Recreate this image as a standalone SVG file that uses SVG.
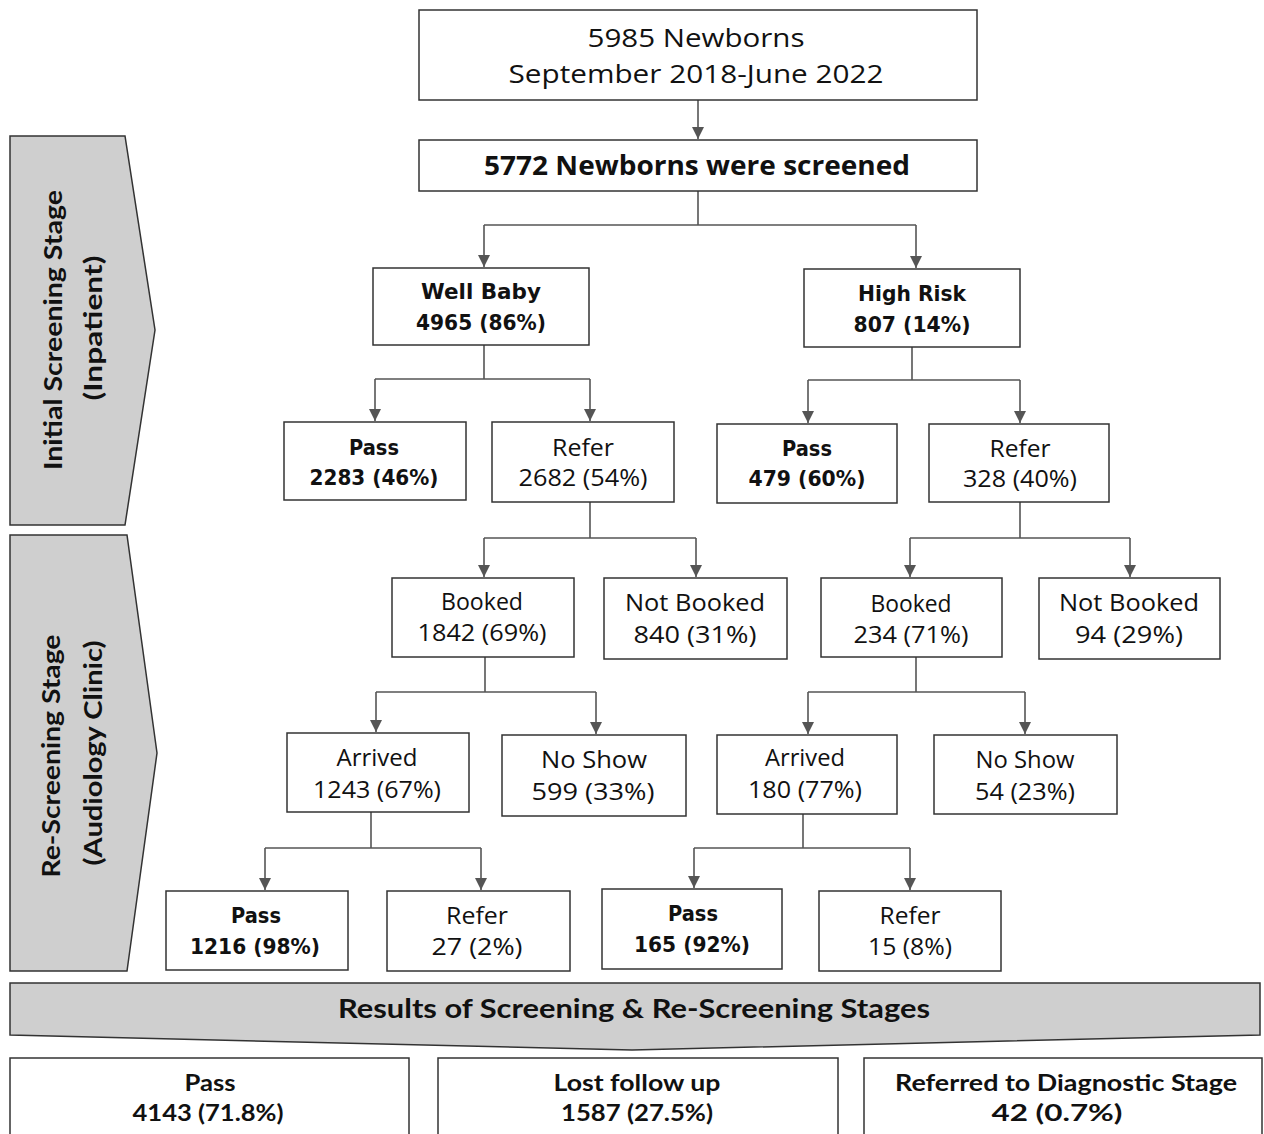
<svg xmlns="http://www.w3.org/2000/svg" width="1264" height="1134" viewBox="0 0 1264 1134">
<defs>
<marker id="ah" viewBox="0 0 10 10" refX="10" refY="5" markerWidth="12" markerHeight="12" markerUnits="userSpaceOnUse" orient="auto">
<path d="M0,0 L10,5 L0,10 z" fill="#555"/>
</marker>
<style>
.box{fill:#fff;stroke:#333;stroke-width:1.5}
.stage{fill:#cfcfcf;stroke:#333;stroke-width:1.5}
.c{fill:none;stroke:#555;stroke-width:1.6}
text{text-anchor:middle;dominant-baseline:central;fill:#111}
.r{font-family:"Open Sans","Noto Sans",sans-serif;font-size:23px}
.b{font-family:"DejaVu Sans",sans-serif;font-weight:bold;font-size:22px}
.h{font-family:"Open Sans","Noto Sans",sans-serif;font-weight:bold;font-size:26px}
.l{font-family:"Lato","Open Sans",sans-serif;font-weight:bold;font-size:24px}
</style>
</defs>
<rect width="1264" height="1134" fill="#fff"/>

<g id="stage-initial">
<polygon class="stage" points="10,136 125,136 155,330 125,525 10,525"/>
<text class="l" transform="translate(52,330) rotate(-90)" textLength="280" lengthAdjust="spacingAndGlyphs">Initial Screening Stage</text>
<text class="l" transform="translate(92,328) rotate(-90)" textLength="145" lengthAdjust="spacingAndGlyphs">(Inpatient)</text>
</g>
<g id="stage-rescreening">
<polygon class="stage" points="10,535 127,535 157,753 127,971 10,971"/>
<text class="l" transform="translate(50,756) rotate(-90)" textLength="243" lengthAdjust="spacingAndGlyphs">Re-Screening Stage</text>
<text class="l" transform="translate(92,753) rotate(-90)" textLength="225" lengthAdjust="spacingAndGlyphs">(Audiology Clinic)</text>
</g>

<g id="connectors">
<path class="c" d="M698,100 V139" marker-end="url(#ah)"/>
<path class="c" d="M698,191 V225 M484,225 H916"/>
<path class="c" d="M484,225 V267" marker-end="url(#ah)"/>
<path class="c" d="M916,225 V268" marker-end="url(#ah)"/>
<path class="c" d="M484,345 V379 M375,379 H590"/>
<path class="c" d="M375,379 V421" marker-end="url(#ah)"/>
<path class="c" d="M590,379 V421" marker-end="url(#ah)"/>
<path class="c" d="M912,347 V380 M808,380 H1020"/>
<path class="c" d="M808,380 V423" marker-end="url(#ah)"/>
<path class="c" d="M1020,380 V423" marker-end="url(#ah)"/>
<path class="c" d="M590,502 V538 M484,538 H696"/>
<path class="c" d="M484,538 V577" marker-end="url(#ah)"/>
<path class="c" d="M696,538 V577" marker-end="url(#ah)"/>
<path class="c" d="M1020,502 V538 M910,538 H1130"/>
<path class="c" d="M910,538 V577" marker-end="url(#ah)"/>
<path class="c" d="M1130,538 V577" marker-end="url(#ah)"/>
<path class="c" d="M485,657 V692 M376,692 H596"/>
<path class="c" d="M376,692 V732" marker-end="url(#ah)"/>
<path class="c" d="M596,692 V734" marker-end="url(#ah)"/>
<path class="c" d="M916,657 V692 M808,692 H1025"/>
<path class="c" d="M808,692 V734" marker-end="url(#ah)"/>
<path class="c" d="M1025,692 V734" marker-end="url(#ah)"/>
<path class="c" d="M371,812 V848 M265,848 H481"/>
<path class="c" d="M265,848 V890" marker-end="url(#ah)"/>
<path class="c" d="M481,848 V890" marker-end="url(#ah)"/>
<path class="c" d="M803,814 V848 M694,848 H910"/>
<path class="c" d="M694,848 V888" marker-end="url(#ah)"/>
<path class="c" d="M910,848 V890" marker-end="url(#ah)"/>
</g>

<g id="n-total">
<rect class="box" x="419" y="10" width="558" height="90"/>
<text class="r" x="696" y="37" style="font-size:26px" textLength="217" lengthAdjust="spacingAndGlyphs">5985 Newborns</text>
<text class="r" x="696" y="73" style="font-size:26px" textLength="375" lengthAdjust="spacingAndGlyphs">September 2018-June 2022</text>
</g>
<g id="n-screened">
<rect class="box" x="419" y="140" width="558" height="51"/>
<text class="h" x="697" y="165" textLength="426" lengthAdjust="spacingAndGlyphs">5772 Newborns were screened</text>
</g>
<g id="n-wellbaby">
<rect class="box" x="373" y="268" width="216" height="77"/>
<text class="b" x="481" y="291" textLength="120" lengthAdjust="spacingAndGlyphs">Well Baby</text>
<text class="b" x="481" y="322" textLength="130" lengthAdjust="spacingAndGlyphs">4965 (86%)</text>
</g>
<g id="n-highrisk">
<rect class="box" x="804" y="269" width="216" height="78"/>
<text class="b" x="912" y="293" textLength="108" lengthAdjust="spacingAndGlyphs">High Risk</text>
<text class="b" x="912" y="324" textLength="117" lengthAdjust="spacingAndGlyphs">807 (14%)</text>
</g>
<g id="n-wb-pass">
<rect class="box" x="284" y="422" width="182" height="78"/>
<text class="b" x="374" y="447" textLength="50" lengthAdjust="spacingAndGlyphs">Pass</text>
<text class="b" x="374" y="477" textLength="129" lengthAdjust="spacingAndGlyphs">2283 (46%)</text>
</g>
<g id="n-wb-refer">
<rect class="box" x="492" y="422" width="182" height="80"/>
<text class="r" x="583" y="447" textLength="62" lengthAdjust="spacingAndGlyphs">Refer</text>
<text class="r" x="583" y="477" textLength="129" lengthAdjust="spacingAndGlyphs">2682 (54%)</text>
</g>
<g id="n-hr-pass">
<rect class="box" x="717" y="424" width="180" height="79"/>
<text class="b" x="807" y="448" textLength="50" lengthAdjust="spacingAndGlyphs">Pass</text>
<text class="b" x="807" y="478" textLength="117" lengthAdjust="spacingAndGlyphs">479 (60%)</text>
</g>
<g id="n-hr-refer">
<rect class="box" x="929" y="424" width="180" height="78"/>
<text class="r" x="1020" y="448" textLength="61" lengthAdjust="spacingAndGlyphs">Refer</text>
<text class="r" x="1020" y="478" textLength="114" lengthAdjust="spacingAndGlyphs">328 (40%)</text>
</g>
<g id="n-wb-booked">
<rect class="box" x="392" y="578" width="182" height="79"/>
<text class="r" x="482" y="601" textLength="82" lengthAdjust="spacingAndGlyphs">Booked</text>
<text class="r" x="482" y="632" textLength="129" lengthAdjust="spacingAndGlyphs">1842 (69%)</text>
</g>
<g id="n-wb-notbooked">
<rect class="box" x="604" y="578" width="183" height="81"/>
<text class="r" x="695" y="602" textLength="140" lengthAdjust="spacingAndGlyphs">Not Booked</text>
<text class="r" x="695" y="634" textLength="123" lengthAdjust="spacingAndGlyphs">840 (31%)</text>
</g>
<g id="n-hr-booked">
<rect class="box" x="821" y="578" width="181" height="79"/>
<text class="r" x="911" y="603" textLength="81" lengthAdjust="spacingAndGlyphs">Booked</text>
<text class="r" x="911" y="634" textLength="115" lengthAdjust="spacingAndGlyphs">234 (71%)</text>
</g>
<g id="n-hr-notbooked">
<rect class="box" x="1039" y="578" width="181" height="81"/>
<text class="r" x="1129" y="602" textLength="140" lengthAdjust="spacingAndGlyphs">Not Booked</text>
<text class="r" x="1129" y="634" textLength="108" lengthAdjust="spacingAndGlyphs">94 (29%)</text>
</g>
<g id="n-wb-arrived">
<rect class="box" x="287" y="733" width="182" height="79"/>
<text class="r" x="377" y="757" textLength="81" lengthAdjust="spacingAndGlyphs">Arrived</text>
<text class="r" x="377" y="789" textLength="128" lengthAdjust="spacingAndGlyphs">1243 (67%)</text>
</g>
<g id="n-wb-noshow">
<rect class="box" x="502" y="735" width="184" height="81"/>
<text class="r" x="594" y="759" textLength="106" lengthAdjust="spacingAndGlyphs">No Show</text>
<text class="r" x="593" y="791" textLength="123" lengthAdjust="spacingAndGlyphs">599 (33%)</text>
</g>
<g id="n-hr-arrived">
<rect class="box" x="717" y="735" width="180" height="79"/>
<text class="r" x="805" y="757" textLength="80" lengthAdjust="spacingAndGlyphs">Arrived</text>
<text class="r" x="805" y="789" textLength="114" lengthAdjust="spacingAndGlyphs">180 (77%)</text>
</g>
<g id="n-hr-noshow">
<rect class="box" x="934" y="735" width="183" height="79"/>
<text class="r" x="1025" y="759" textLength="99" lengthAdjust="spacingAndGlyphs">No Show</text>
<text class="r" x="1025" y="791" textLength="100" lengthAdjust="spacingAndGlyphs">54 (23%)</text>
</g>
<g id="n-wb-pass2">
<rect class="box" x="166" y="891" width="182" height="79"/>
<text class="b" x="256" y="915" textLength="50" lengthAdjust="spacingAndGlyphs">Pass</text>
<text class="b" x="255" y="946" textLength="130" lengthAdjust="spacingAndGlyphs">1216 (98%)</text>
</g>
<g id="n-wb-refer2">
<rect class="box" x="387" y="891" width="183" height="80"/>
<text class="r" x="477" y="915" textLength="62" lengthAdjust="spacingAndGlyphs">Refer</text>
<text class="r" x="477" y="946" textLength="91" lengthAdjust="spacingAndGlyphs">27 (2%)</text>
</g>
<g id="n-hr-pass2">
<rect class="box" x="602" y="889" width="180" height="80"/>
<text class="b" x="693" y="913" textLength="50" lengthAdjust="spacingAndGlyphs">Pass</text>
<text class="b" x="692" y="944" textLength="116" lengthAdjust="spacingAndGlyphs">165 (92%)</text>
</g>
<g id="n-hr-refer2">
<rect class="box" x="819" y="891" width="182" height="80"/>
<text class="r" x="910" y="915" textLength="61" lengthAdjust="spacingAndGlyphs">Refer</text>
<text class="r" x="910" y="946" textLength="84" lengthAdjust="spacingAndGlyphs">15 (8%)</text>
</g>

<g id="results-banner">
<polygon class="stage" points="10,983 1260,983 1260,1035 632,1050 10,1035"/>
<text class="l" x="634" y="1008" style="font-size:26px" textLength="592" lengthAdjust="spacingAndGlyphs">Results of Screening &amp; Re-Screening Stages</text>
</g>
<g id="r-pass">
<rect class="box" x="10" y="1058" width="399" height="90"/>
<text class="l" x="210" y="1082" style="font-size:22px" textLength="51" lengthAdjust="spacingAndGlyphs">Pass</text>
<text class="l" x="208" y="1112" style="font-size:22px" textLength="151" lengthAdjust="spacingAndGlyphs">4143 (71.8%)</text>
</g>
<g id="r-lost">
<rect class="box" x="438" y="1058" width="400" height="90"/>
<text class="l" x="637" y="1082" style="font-size:22px" textLength="167" lengthAdjust="spacingAndGlyphs">Lost follow up</text>
<text class="l" x="637" y="1112" style="font-size:22px" textLength="152" lengthAdjust="spacingAndGlyphs">1587 (27.5%)</text>
</g>
<g id="r-referred">
<rect class="box" x="864" y="1058" width="398" height="90"/>
<text class="l" x="1066" y="1082" style="font-size:22px" textLength="342" lengthAdjust="spacingAndGlyphs">Referred to Diagnostic Stage</text>
<text class="l" x="1057" y="1112" style="font-size:22px" textLength="131" lengthAdjust="spacingAndGlyphs">42 (0.7%)</text>
</g>
</svg>
